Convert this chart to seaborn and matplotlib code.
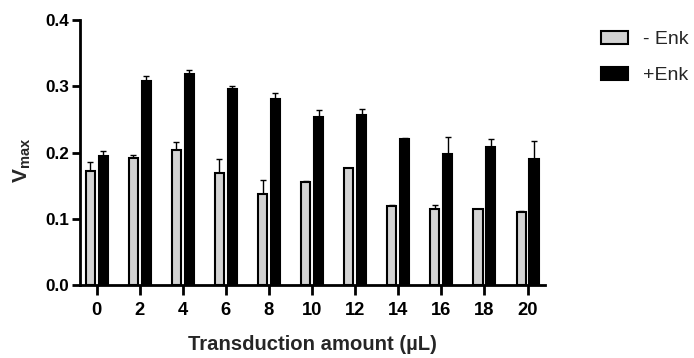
import numpy as np
import pandas as pd
import seaborn as sns
import matplotlib
matplotlib.use("Agg")
import matplotlib.pyplot as plt
from matplotlib.patches import Patch

amounts = ['0', '2', '4', '6', '8', '10', '12', '14', '16', '18', '20']
groups = ['- Enk', '+Enk']
minus_enk = [0.172, 0.192, 0.204, 0.169, 0.138, 0.156, 0.176, 0.119, 0.115, 0.114, 0.110]
minus_err = [0.014, 0.004, 0.012, 0.021, 0.020, 0.001, 0.001, 0.001, 0.005, 0.001, 0.001]
plus_enk = [0.194, 0.308, 0.319, 0.296, 0.281, 0.254, 0.257, 0.221, 0.198, 0.209, 0.190]
plus_err = [0.009, 0.008, 0.006, 0.004, 0.009, 0.010, 0.008, 0.001, 0.026, 0.012, 0.028]
colors = ['#d3d3d3', '#000000']

df = pd.DataFrame({
    'amount': amounts * 2,
    'group': [groups[0]] * len(amounts) + [groups[1]] * len(amounts),
    'vmax': minus_enk + plus_enk,
})

sns.set_theme(style='ticks')
plt.rcParams['font.family'] = ['Liberation Sans', 'DejaVu Sans']
plt.rcParams['mathtext.fontset'] = 'custom'
plt.rcParams['mathtext.bf'] = 'Liberation Sans:bold'
plt.rcParams['mathtext.rm'] = 'Liberation Sans'

fig = plt.figure(figsize=(6.94, 3.58), dpi=100)
ax = fig.add_axes([0.115, 0.204, 0.67, 0.74])

sns.barplot(data=df, x='amount', y='vmax', hue='group', order=amounts,
            hue_order=groups, palette=colors, width=0.6, gap=0.3,
            edgecolor='black', linewidth=1.5, errorbar=None, ax=ax,
            legend=False, zorder=3)

errs = minus_err + plus_err
bars = [p for p in ax.patches][:len(errs)]
xs = [b.get_x() + b.get_width() / 2 for b in bars]
ys = [b.get_height() for b in bars]
ax.errorbar(xs, ys, yerr=[np.zeros(len(errs)), errs], fmt='none',
            ecolor='black', elinewidth=1.0, capsize=2.5, capthick=1.0, zorder=2)

ax.set_ylim(0, 0.4)
ax.set_yticks([0.0, 0.1, 0.2, 0.3, 0.4])
ax.set_yticklabels(['0.0', '0.1', '0.2', '0.3', '0.4'])
ax.set_xlim(-0.39, 10.40)

for s in ['top', 'right']:
    ax.spines[s].set_visible(False)
for s in ['left', 'bottom']:
    ax.spines[s].set_linewidth(2)
    ax.spines[s].set_color('black')
ax.tick_params(axis='y', direction='out', length=6, width=2, colors='black',
               labelsize=12.3, pad=1.5)
ax.tick_params(axis='x', direction='out', length=7, width=2, colors='black',
               labelsize=13.2, pad=5)
for lab in ax.get_xticklabels() + ax.get_yticklabels():
    lab.set_fontweight('bold')

ax.set_xlabel('Transduction amount (µL)', fontsize=14.6, fontweight='bold')
ax.xaxis.set_label_coords(0.5, -0.19)
ax.set_ylabel(r'$\mathbf{V}_{\mathbf{max}}$', fontsize=15)
ax.yaxis.set_label_coords(-0.10, 0.47)

handles = [Patch(facecolor=colors[0], edgecolor='black', linewidth=1.5, label=groups[0]),
           Patch(facecolor=colors[1], edgecolor='black', linewidth=1.5, label=groups[1])]
fig.legend(handles=handles, loc='upper left', bbox_to_anchor=(0.841, 0.962),
           frameon=False, fontsize=14, handlelength=1.38, handleheight=0.63,
           labelspacing=0.95, handletextpad=0.75, borderpad=0.4)

fig.savefig('out.png', dpi=100)
